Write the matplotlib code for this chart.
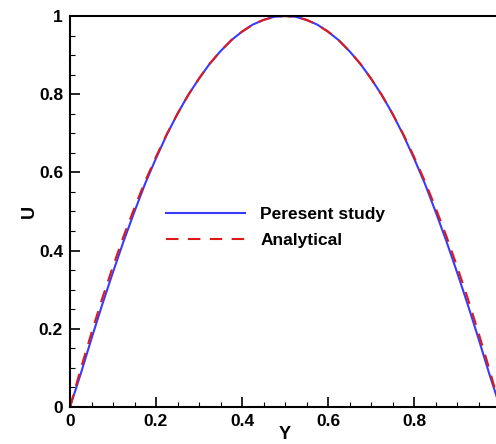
import matplotlib
matplotlib.use("Agg")
import matplotlib.pyplot as plt
from matplotlib.ticker import MultipleLocator

plt.rcParams['font.family'] = ['Liberation Sans', 'DejaVu Sans']
plt.rcParams['font.weight'] = 'bold'

# values, Y step 0.025
y_pos = [i * 0.025 for i in range(41)]
u_analytical = [0.0, 0.098, 0.19, 0.278, 0.36, 0.438, 0.51, 0.578, 0.64, 0.698, 0.75,
                0.798, 0.84, 0.878, 0.91, 0.938, 0.96, 0.978, 0.99, 0.998, 1.00,
                0.998, 0.99, 0.978, 0.96, 0.938, 0.91, 0.878, 0.84, 0.798, 0.75,
                0.698, 0.64, 0.578, 0.51, 0.438, 0.36, 0.278, 0.19, 0.098, 0.0]
u_present = [0.0, 0.085, 0.175, 0.262, 0.345, 0.425, 0.50, 0.572, 0.636, 0.696, 0.75,
             0.798, 0.84, 0.878, 0.91, 0.938, 0.96, 0.978, 0.99, 0.998, 1.00,
             0.998, 0.99, 0.978, 0.96, 0.938, 0.91, 0.878, 0.84, 0.798, 0.75,
             0.696, 0.636, 0.572, 0.50, 0.425, 0.345, 0.262, 0.175, 0.085, 0.0]
x_ticks = [0, 0.2, 0.4, 0.6, 0.8]
x_labels = ['0', '0.2', '0.4', '0.6', '0.8']
y_ticks = [0, 0.2, 0.4, 0.6, 0.8, 1]
y_labels = ['0', '0.2', '0.4', '0.6', '0.8', '1']

fig = plt.figure(figsize=(4.96, 4.44), dpi=100)
ax = fig.add_axes([70 / 496, 1 - 407 / 444, 430 / 496, 391 / 444])

ax.plot(y_pos, u_present, color='#3a3aff', lw=1.5, label='Peresent study')
ax.plot(y_pos, u_analytical, color='#dd1a1a', lw=1.5, ls=(0, (6, 4.5)), label='Analytical')

ax.set_xlim(0, 1)
ax.set_ylim(0, 1)
ax.set_xticks(x_ticks)
ax.set_xticklabels(x_labels)
ax.set_yticks(y_ticks)
ax.set_yticklabels(y_labels)
ax.xaxis.set_minor_locator(MultipleLocator(0.05))
ax.yaxis.set_minor_locator(MultipleLocator(0.05))
ax.tick_params(which='major', direction='in', length=7, width=1.2, labelsize=12.5, pad=5)
ax.tick_params(which='minor', direction='in', length=3.5, width=0.8)
for s in ax.spines.values():
    s.set_linewidth(1.5)

ax.set_xlabel('Y', fontsize=13, fontweight='bold', labelpad=-2)
ax.set_ylabel('U', fontsize=13, fontweight='bold', labelpad=1)

ax.legend(loc='upper left', bbox_to_anchor=(0.186, 0.552), frameon=False,
          handlelength=4.6, fontsize=12.5, labelspacing=0.65, handletextpad=0.85)

fig.savefig('out.png', dpi=100)
